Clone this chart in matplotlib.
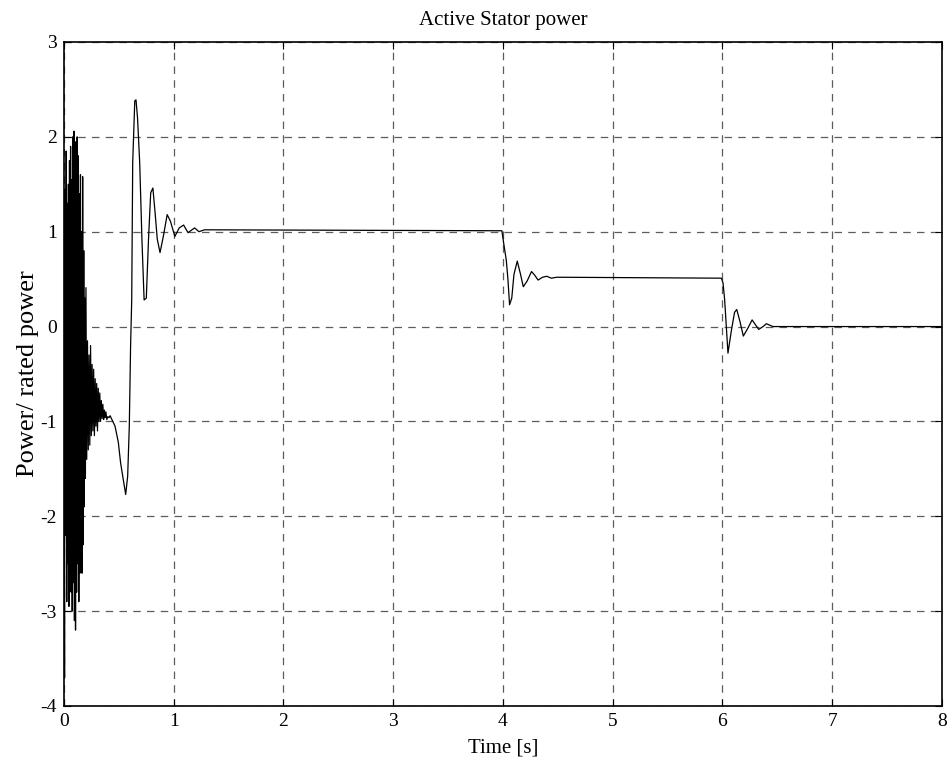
import matplotlib
matplotlib.use("Agg")
import matplotlib.pyplot as plt

# Tiempo (s) y potencia activa del estator (p.u.)
t_arranque = [0.000, 0.005, 0.010, 0.015, 0.020, 0.025, 0.030, 0.035, 0.040, 0.045,
              0.050, 0.055, 0.060, 0.065, 0.070, 0.075, 0.080, 0.085, 0.090, 0.095,
              0.100, 0.105, 0.110, 0.115, 0.120, 0.125, 0.130, 0.135, 0.140, 0.145,
              0.150, 0.155, 0.160, 0.165, 0.170, 0.175, 0.180, 0.185, 0.190, 0.195,
              0.200, 0.207, 0.214, 0.221, 0.228, 0.235, 0.242, 0.249, 0.256, 0.263,
              0.270, 0.277, 0.284, 0.291, 0.298, 0.305, 0.312, 0.319, 0.326, 0.333,
              0.340, 0.347, 0.354, 0.361, 0.368, 0.375, 0.382, 0.390, 0.400, 0.410]
p_arranque = [0.0, -3.7, 1.45, -2.2, 1.85, -2.9, 1.3, -2.5, 1.5, -2.95,
              1.75, -2.6, 1.9, -2.8, 1.55, -3.0, 2.0, -2.7, 2.06, -3.1,
              1.6, -3.2, 1.95, -2.8, 2.0, -2.5, 1.8, -2.9, 1.4, -2.6,
              1.6, -2.4, 1.0, -2.6, 1.58, -2.3, 0.8, -1.9, 0.3, -1.6,
              0.41, -1.4, -0.15, -1.3, -0.3, -1.25, -0.2, -1.15, -0.4, -1.1,
              -0.45, -1.15, -0.55, -1.05, -0.6, -1.1, -0.65, -1.0, -0.7, -1.0,
              -0.78, -0.97, -0.82, -0.98, -0.88, -0.96, -0.9, -0.98, -0.95, -0.96]

t_transitorio = [0.420, 0.465, 0.495, 0.516, 0.540, 0.562, 0.580, 0.595, 0.607, 0.617,
                 0.626, 0.645, 0.656, 0.670, 0.690, 0.710, 0.730, 0.750, 0.770, 0.790,
                 0.810, 0.830, 0.850, 0.875, 0.905, 0.940, 0.970, 1.010, 1.050, 1.090,
                 1.130, 1.190, 1.230, 1.280]
p_transitorio = [-0.94, -1.05, -1.22, -1.44, -1.61, -1.77, -1.58, -1.05, -0.19, 0.28,
                 1.73, 2.38, 2.39, 2.2, 1.72, 0.92, 0.28, 0.30, 0.92, 1.41,
                 1.46, 1.20, 0.92, 0.78, 0.95, 1.18, 1.11, 0.95, 1.04, 1.07,
                 0.99, 1.04, 1.00, 1.02]

t_escalon1 = [3.990, 4.010, 4.030, 4.045, 4.060, 4.080, 4.100, 4.130, 4.160, 4.185,
              4.220, 4.260, 4.290, 4.320, 4.360, 4.400, 4.440, 4.490]
p_escalon1 = [1.01, 0.85, 0.70, 0.50, 0.23, 0.30, 0.55, 0.69, 0.55, 0.42,
              0.48, 0.58, 0.54, 0.49, 0.52, 0.53, 0.51, 0.52]

t_escalon2 = [5.990, 6.005, 6.020, 6.035, 6.050, 6.080, 6.110, 6.130, 6.160, 6.190,
              6.230, 6.270, 6.300, 6.330, 6.370, 6.400, 6.460, 6.520]
p_escalon2 = [0.51, 0.46, 0.28, 0.0, -0.28, -0.05, 0.15, 0.18, 0.05, -0.10,
              -0.02, 0.07, 0.02, -0.03, 0.0, 0.03, 0.0, 0.0]

t_final = [8.0]
p_final = [0.0]

t = t_arranque + t_transitorio + t_escalon1 + t_escalon2 + t_final
p = p_arranque + p_transitorio + p_escalon1 + p_escalon2 + p_final

plt.rcParams['font.family'] = ['Liberation Serif', 'DejaVu Serif']
plt.rcParams['axes.unicode_minus'] = False

fig = plt.figure(figsize=(9.51, 7.62), dpi=100)
ax = fig.add_axes([0.0673, 0.0735, 0.9232, 0.8714])

ax.plot(t, p, color='black', linewidth=0.9)

ax.set_xlim(0, 8)
ax.set_ylim(-4, 3)
ax.set_xticks(range(0, 9))
ax.set_yticks(range(-4, 4))
ax.grid(True, color='#333333', linestyle=(0, (6, 5)), linewidth=0.9, alpha=0.8)
ax.tick_params(direction='in', length=5, labelsize=14, top=True, right=True,
               labeltop=False, labelright=False, pad=5)
for s in ax.spines.values():
    s.set_linewidth(1.2)

ax.set_title("Active Stator power", fontsize=15, pad=12)
ax.set_xlabel("Time [s]", fontsize=15, labelpad=6)
ax.set_ylabel("Power/ rated power", fontsize=19, labelpad=1)

plt.savefig("out.png", dpi=100)
